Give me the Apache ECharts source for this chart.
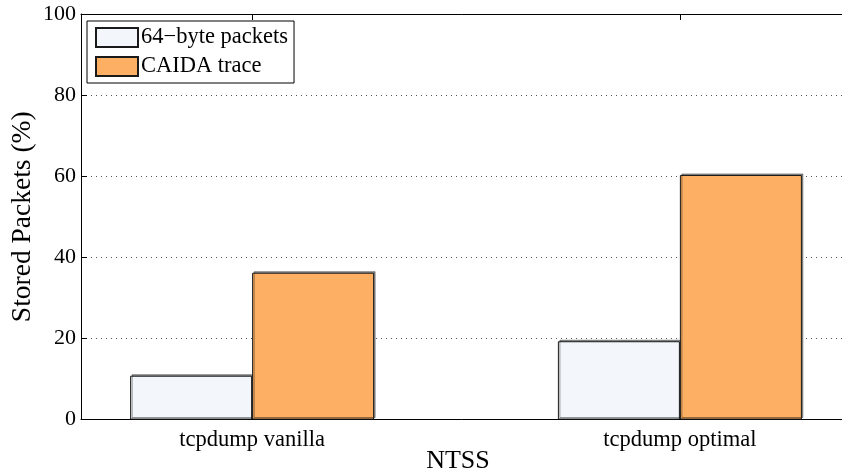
<!DOCTYPE html>
<html>
<head>
<meta charset="utf-8">
<script src="https://cdn.jsdelivr.net/npm/echarts@6/dist/echarts.min.js"></script>
<style>
  html, body { margin: 0; padding: 0; background: #fff; }
  #chart { width: 842px; height: 470px; }
</style>
</head>
<body>
<div id="chart"></div>
<script>
// Categories and stored-packet percentages per capture setup
const categories = ['tcpdump vanilla', 'tcpdump optimal'];
const seriesNames = ['64\u2212byte packets', 'CAIDA trace'];
const smallPackets = [10.8, 19.3];
const caidaTrace = [36.2, 60.3];
const yTicks = [0, 20, 40, 60, 80, 100];

const FONT = '"Liberation Serif", "DejaVu Serif", serif';
const positions = categories.map((_, i) => i + 1);

const chart = echarts.init(document.getElementById('chart'), null, { renderer: 'canvas' });

const barStyle = (color) => ({
  color: color,
  borderColor: '#1a1a1a',
  borderWidth: 1,
  shadowColor: 'rgba(0,0,0,0.4)',
  shadowOffsetX: 1.5,
  shadowOffsetY: -1.5,
  shadowBlur: 0
});

chart.setOption({
  animation: false,
  backgroundColor: '#fff',
  textStyle: { fontFamily: FONT },
  grid: {
    left: 81, right: -9, top: 14, bottom: 50.5,
    containLabel: false,
    outerBoundsMode: 'none'
  },
  legend: {
    orient: 'vertical',
    left: 87,
    top: 21,
    icon: 'rect',
    itemWidth: 42,
    itemHeight: 19,
    itemGap: 6,
    padding: [5, 6, 5, 8],
    backgroundColor: '#fff',
    borderColor: '#000',
    borderWidth: 1,
    borderRadius: 0,
    textStyle: { fontFamily: FONT, fontSize: 22.5, color: '#000', padding: [0, 0, 0, -2] },
    data: seriesNames
  },
  xAxis: [
    {
      type: 'value',
      min: 0.6,
      max: 2.4,
      name: 'NTSS',
      nameLocation: 'middle',
      nameMoveOverlap: false,
      nameGap: 29,
      nameTextStyle: { fontFamily: FONT, fontSize: 26, color: '#000', padding: [0, 16, 0, 0] },
      axisLine: { show: true, lineStyle: { color: '#000', width: 1 } },
      axisTick: { show: true, inside: true, length: 6, customValues: positions, lineStyle: { color: '#000' } },
      axisLabel: {
        customValues: positions,
        formatter: (v) => categories[Math.round(v) - 1] || '',
        fontFamily: FONT, fontSize: 22.5, color: '#000', margin: 9
      },
      splitLine: { show: false }
    },
    {
      type: 'value',
      position: 'top',
      min: 0.6,
      max: 2.4,
      axisLine: { show: true, onZero: false, lineStyle: { color: '#000', width: 1 } },
      axisTick: { show: true, inside: true, length: 6, customValues: positions, lineStyle: { color: '#000' } },
      axisLabel: { show: false },
      splitLine: { show: false }
    }
  ],
  yAxis: {
    type: 'value',
    min: 0,
    max: 100,
    interval: 20,
    name: 'Stored Packets (%)',
    nameLocation: 'middle',
    nameMoveOverlap: false,
    nameGap: 44,
    nameTextStyle: { fontFamily: FONT, fontSize: 27.5, color: '#000' },
    axisLine: { show: true, lineStyle: { color: '#000', width: 1 } },
    axisTick: { show: true, inside: true, length: 6, lineStyle: { color: '#000' } },
    axisLabel: {
      fontFamily: FONT, fontSize: 22, color: '#000', margin: 5,
      formatter: (v) => (yTicks.includes(v) ? String(v) : '')
    },
    splitLine: {
      show: true,
      showMinLine: false,
      showMaxLine: false,
      lineStyle: { color: '#555', type: [1, 4], width: 1 }
    }
  },
  series: [
    {
      name: seriesNames[0],
      type: 'bar',
      xAxisIndex: 0,
      barWidth: 122,
      barGap: '0%',
      itemStyle: barStyle('#F3F7FC'),
      data: positions.map((x, i) => [x, smallPackets[i]])
    },
    {
      name: seriesNames[1],
      type: 'bar',
      xAxisIndex: 0,
      barWidth: 122,
      barGap: '0%',
      itemStyle: barStyle('#FDB063'),
      data: positions.map((x, i) => [x, caidaTrace[i]])
    }
  ]
});
</script>
</body>
</html>
